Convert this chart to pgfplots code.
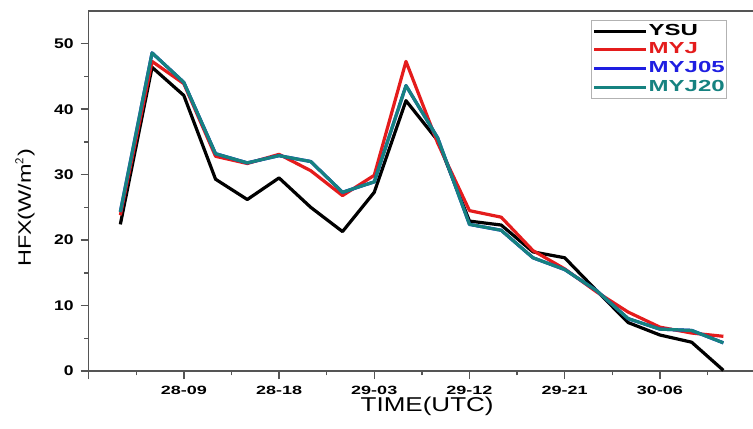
\documentclass[border=0pt]{standalone}
\usepackage{pgfplots}
\pgfplotsset{compat=1.18}
\usepackage{fontspec}
\setmainfont{Liberation Sans}
\newfontfamily\tickfont[FakeStretch=1.5]{Liberation Sans}
\newfontfamily\ytickfont[FakeStretch=1.25]{Liberation Sans}
\newfontfamily\labfont[FakeStretch=1.3]{Liberation Sans}
\newfontfamily\legfont[FakeStretch=1.5]{Liberation Sans}
\definecolor{myred}{RGB}{228,28,28}
\definecolor{myblue}{RGB}{30,30,225}
\definecolor{myteal}{RGB}{22,130,128}
\definecolor{axgray}{RGB}{85,85,85}
\pgfplotstableread{
h ysu myj myj05 myj20
3 22.4 23.8 24.3 24.3
6 46.4 47.3 48.6 48.6
9 42.1 43.9 44.1 44.1
12 29.3 32.8 33.2 33.2
15 26.2 31.7 31.8 31.8
18 29.5 33.1 32.9 32.9
21 25.0 30.6 32.0 32.0
24 21.3 26.8 27.3 27.3
27 27.3 29.9 28.9 28.9
30 41.3 47.3 43.6 43.6
33 35.2 34.8 35.6 35.6
36 22.9 24.5 22.4 22.4
39 22.3 23.5 21.5 21.5
42 18.2 18.4 17.3 17.3
45 17.3 15.6 15.5 15.5
48 12.3 12.1 12.3 12.3
51 7.4 9.0 8.0 8.0
54 5.5 6.7 6.4 6.4
57 4.4 5.8 6.2 6.2
60 0.1 5.3 4.3 4.3
}\hfx
\begin{document}
\begin{tikzpicture}
\begin{axis}[
  scale only axis,
  width=338.55pt, height=180pt,
  xmin=0, xmax=64, ymin=0, ymax=55,
  axis line style={axgray, line width=0.8pt},
  xtick pos=bottom, ytick pos=left,
  tick style={axgray, line width=0.7pt},
  tick align=outside,
  major tick length=4pt,
  minor tick length=2.2pt,
  xtick={0,9,18,27,36,45,54,63},
  xticklabels={,28-09,28-18,29-03,29-12,29-21,30-06,},
  minor xtick={4.5,13.5,22.5,31.5,40.5,49.5,58.5},
  ytick={0,10,20,30,40,50},
  minor ytick={5,15,25,35,45},
  /pgf/number format/assume math mode=true,
  xticklabel style={font=\tickfont\bfseries\fontsize{6}{7}\selectfont, anchor=north},
  yticklabel style={font=\ytickfont\bfseries\fontsize{7}{8}\selectfont, anchor=east},
  xlabel={TIME(UTC)},
  ylabel={HFX(W/m$^{\mathsf{2}}$)},
  xlabel style={font=\labfont\fontsize{10}{12}\selectfont, at={(axis description cs:0.5,-0.097)}, anchor=center},
  ylabel style={font=\labfont\fontsize{9}{11}\selectfont, at={(axis description cs:-0.094,0.453)}, anchor=center},
  legend style={at={(axis description cs:0.742,0.975)}, anchor=north west,
    draw=gray!60, line width=0.5pt, inner xsep=0.5pt, inner ysep=1.2pt,
    font=\legfont\bfseries\fontsize{8}{9.5}\selectfont,
    nodes={inner sep=0.6pt}, row sep=1.1pt},
  legend cell align=left,
  legend image code/.code={\draw[#1, line width=1.5pt] (0pt,0pt) -- (26pt,0pt);},
  every axis plot/.append style={line width=1.6pt, line join=round},
]
\addplot[black] table[x=h, y=ysu] {\hfx};
\addlegendentry{\textcolor{black}{YSU}}
\addplot[myred] table[x=h, y=myj] {\hfx};
\addlegendentry{\textcolor{myred}{MYJ}}
\addplot[myblue] table[x=h, y=myj05] {\hfx};
\addlegendentry{\textcolor{myblue}{MYJ05}}
\addplot[myteal] table[x=h, y=myj20] {\hfx};
\addlegendentry{\textcolor{myteal}{MYJ20}}
\end{axis}
\pgfresetboundingbox
\path[use as bounding box] (-44.3pt,-28.5pt) rectangle (332.2pt,185.5pt);
\end{tikzpicture}
\end{document}
